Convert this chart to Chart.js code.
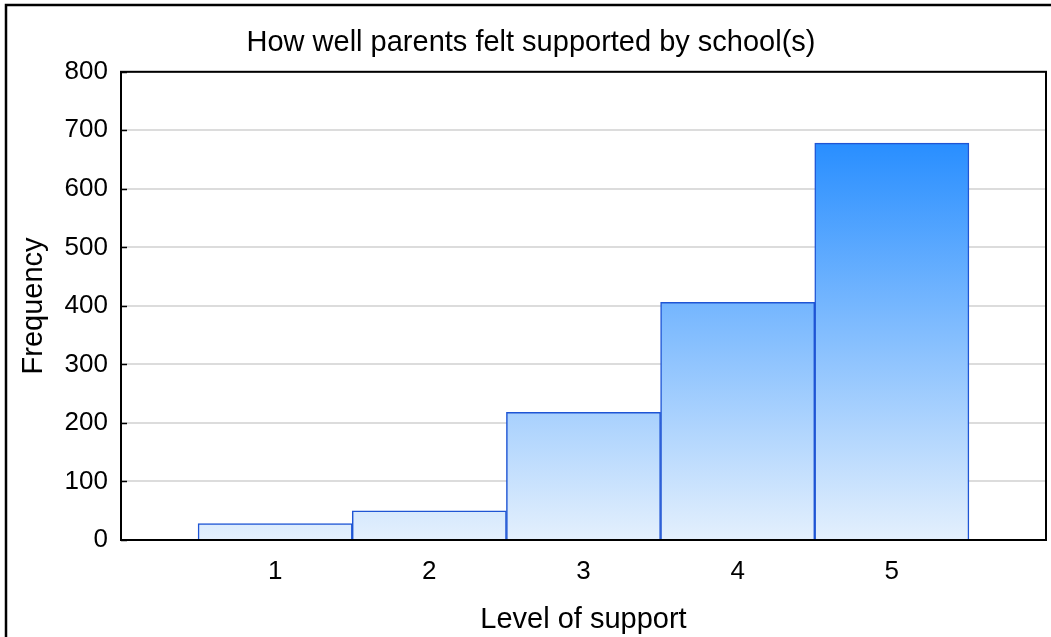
<!DOCTYPE html>
<html>
<head>
<meta charset="utf-8">
<title>Parent support</title>
<script src="https://cdn.jsdelivr.net/npm/chart.js@4/dist/chart.umd.min.js"></script>
<style>
  html, body { margin: 0; padding: 0; background: #fff; }
  #wrap { position: relative; width: 1051px; height: 637px; }
</style>
</head>
<body>
<div id="wrap"><canvas id="supportChart" width="1051" height="637"></canvas></div>
<script>
// Frequency of each support level (1 = lowest, 5 = highest)
const levels = [1, 2, 3, 4, 5];
const frequencies = [28, 50, 218, 406, 678];
const yTickValues = [0, 100, 200, 300, 400, 500, 600, 700, 800];

const FONT = "'Liberation Sans', Arial, sans-serif";

// blue fade from pale at zero to saturated near the top of the range
function barFill(context) {
  const chart = context.chart;
  const { ctx, chartArea, scales } = chart;
  if (!chartArea) return "#9fcaff";
  const yBottom = scales.y.getPixelForValue(0);
  const yTop = scales.y.getPixelForValue(680);
  const g = ctx.createLinearGradient(0, yBottom, 0, yTop);
  g.addColorStop(0, "rgb(228,240,253)");
  g.addColorStop(1, "rgb(40,142,255)");
  return g;
}

// plot box, inner tick marks and outer frame
const framePlugin = {
  id: "frame",
  afterDraw(chart) {
    const { ctx, chartArea: a, scales } = chart;
    ctx.save();
    ctx.strokeStyle = "#000";
    ctx.lineWidth = 2;
    ctx.strokeRect(a.left, a.top, a.right - a.left, a.bottom - a.top);
    ctx.beginPath();
    yTickValues.forEach(v => {
      const y = Math.round(scales.y.getPixelForValue(v)) + 0.5;
      ctx.moveTo(a.left, y);
      ctx.lineTo(a.left + 6, y);
    });
    ctx.lineWidth = 1.5;
    ctx.stroke();
    ctx.lineWidth = 2.5;
    ctx.beginPath();
    ctx.moveTo(6, chart.height);
    ctx.lineTo(6, 5);
    ctx.lineTo(chart.width, 5);
    ctx.stroke();
    ctx.restore();
  }
};

const ctx = document.getElementById("supportChart").getContext("2d");
const supportChart = new Chart(ctx, {
  type: "bar",
  data: {
    datasets: [{
      label: "Frequency",
      data: levels.map((lv, i) => ({ x: lv, y: frequencies[i] })),
      backgroundColor: barFill,
      borderColor: "#1f55d4",
      borderWidth: 1.5,
      barPercentage: 1,
      categoryPercentage: 1
    }]
  },
  options: {
    responsive: false,
    animation: false,
    layout: { padding: { left: 16, right: 5, top: 0, bottom: 0 } },
    plugins: {
      legend: { display: false },
      tooltip: { enabled: false },
      title: {
        display: true,
        text: "How well parents felt supported by school(s)",
        color: "#000",
        font: { family: FONT, size: 29, weight: "normal" },
        padding: { top: 26, bottom: 11 }
      }
    },
    scales: {
      x: {
        type: "linear",
        min: 0,
        max: 6,
        offset: false,
        grid: { display: false, drawTicks: false },
        border: { display: false },
        afterBuildTicks: scale => { scale.ticks = levels.map(v => ({ value: v })); },
        ticks: {
          color: "#000",
          font: { family: FONT, size: 26 },
          padding: 16,
          autoSkip: false,
          maxRotation: 0,
          callback: v => String(v)
        },
        title: {
          display: true,
          text: "Level of support",
          color: "#000",
          font: { family: FONT, size: 29 },
          padding: { top: 2, bottom: 0 }
        },
        afterFit: scale => { scale.height = 97; }
      },
      y: {
        min: 0,
        max: 800,
        grid: { color: "#dcdcdc", lineWidth: 2, drawTicks: false },
        border: { display: false },
        afterBuildTicks: scale => { scale.ticks = yTickValues.map(v => ({ value: v })); },
        ticks: {
          color: "#000",
          font: { family: FONT, size: 26 },
          padding: 13
        },
        title: {
          display: true,
          text: "Frequency",
          color: "#000",
          font: { family: FONT, size: 29 },
          padding: { top: 1, bottom: 0 }
        },
        afterFit: scale => { scale.width = 105; }
      }
    }
  },
  plugins: [framePlugin]
});
</script>
</body>
</html>
